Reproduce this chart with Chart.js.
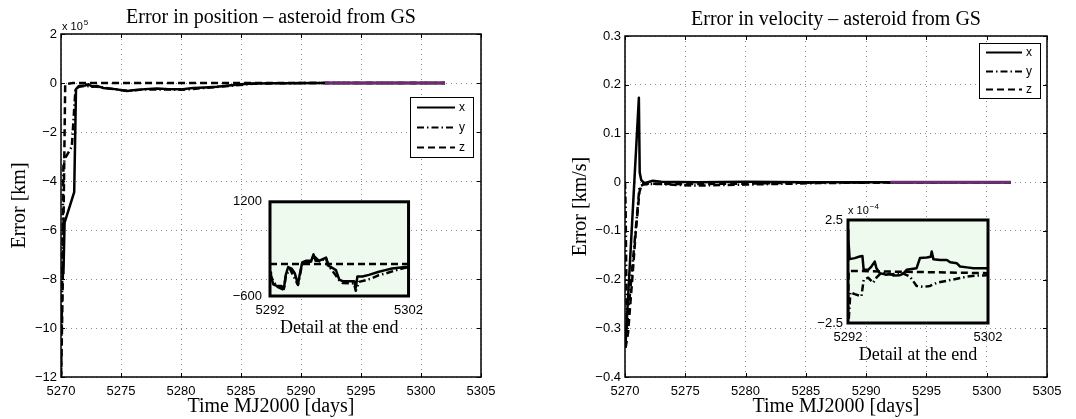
<!DOCTYPE html>
<html>
<head>
<meta charset="utf-8">
<script src="https://cdn.jsdelivr.net/npm/chart.js@4.4.1/dist/chart.umd.min.js"></script>
<style>
  body { margin: 0; background: #fff; }
  #wrap { position: relative; width: 1076px; height: 419px; overflow: hidden; background: #fff; }
  canvas { position: absolute; }
</style>
</head>
<body>
<div id="wrap">
  <canvas id="posChart" width="540" height="419" style="left:0;top:0"></canvas>
  <canvas id="velChart" width="536" height="419" style="left:540px;top:0"></canvas>
  <canvas id="posInset" width="220" height="160" style="left:210px;top:186px"></canvas>
  <canvas id="velInset" width="220" height="170" style="left:790px;top:195px"></canvas>
</div>
<script>
// ---- position error, main plot (units of 1e5 km) ----
const posXTime = [5270.2, 5270.3, 5271.1, 5271.25, 5271.5, 5272.0, 5272.3, 5272.6, 5273.0, 5273.5, 5274.5, 5275.5, 5276.0, 5277.0, 5278.0, 5279.0, 5280.0, 5281.0, 5282.0, 5283.0, 5284.0, 5285.0, 5286.0, 5288.0, 5292.0, 5302.0];
const posXVal = [-7.8, -5.7, -4.45, -0.25, -0.12, -0.1, -0.05, -0.15, -0.12, -0.2, -0.25, -0.33, -0.3, -0.25, -0.22, -0.25, -0.26, -0.2, -0.18, -0.15, -0.1, -0.05, -0.02, -0.01, 0, 0];
const posYTime = [5270.0, 5270.2, 5270.3, 5270.9, 5271.2, 5271.5, 5272.0, 5273.0, 5274.0, 5275.5, 5277.0, 5279.0, 5280.0, 5282.0, 5284.0, 5286.0, 5288.0, 5292.0, 5302.0];
const posYVal = [-12.5, -3.4, -3.1, -2.6, -0.3, -0.15, -0.12, -0.15, -0.22, -0.32, -0.26, -0.27, -0.28, -0.2, -0.12, -0.03, -0.01, 0, 0];
const posZTime = [5270.0, 5270.15, 5270.35, 5271.0, 5302.0];
const posZVal = [-12.5, -8.0, -0.05, 0.0, 0.0];

// ---- velocity error, main plot (km/s) ----
const velXTime = [5270.05, 5271.15, 5271.22, 5271.35, 5271.6, 5272.3, 5273.0, 5276.0, 5280.0, 5285.0, 5290.0, 5302.0];
const velXVal = [-0.33, 0.173, 0.02, 0.004, -0.002, 0.003, 0.001, 0.0, 0.001, 0.0, 0.0, 0.0];
const velYTime = [5270.0, 5270.05, 5270.15, 5270.3, 5271.2, 5271.5, 5272.0, 5273.0, 5274.5, 5276.0, 5278.0, 5280.0, 5282.0, 5284.0, 5286.0, 5290.0, 5302.0];
const velYVal = [0.0, -0.05, -0.3, -0.26, -0.01, -0.005, -0.004, -0.004, -0.006, -0.007, -0.006, -0.005, -0.004, -0.003, -0.002, -0.001, 0.0];
const velZTime = [5270.05, 5270.25, 5270.6, 5270.9, 5271.2, 5271.4, 5272.0, 5275.0, 5280.0, 5285.0, 5302.0];
const velZVal = [-0.34, -0.31, -0.2, -0.1, -0.02, -0.004, -0.003, -0.004, -0.003, -0.001, 0.0];

// highlighted detail span (purple)
const detailTime = [5292, 5302];
const posDetailVal = [0, 0];
const velDetailVal = [0, 0];

// ---- inset: position detail (km) ----
const insPosXTime = [5292.0, 5292.07, 5292.14, 5292.24, 5292.48, 5292.83, 5293.0, 5293.14, 5293.31, 5293.55, 5293.79, 5294.02, 5294.14, 5294.33, 5294.62, 5294.98, 5295.14, 5295.29, 5295.57, 5296.05, 5296.17, 5296.4, 5296.76, 5297.0, 5297.24, 5298.07, 5298.19, 5298.31, 5298.67, 5299.14, 5299.86, 5300.33, 5300.81, 5301.76, 5302.0];
const insPosXVal = [-150, -200, -290, -377, -407, -410, -467, -197, -46, -76, -167, -377, -200, 44, 74, 74, 195, 74, 74, 134, -16, -46, -106, -287, -317, -317, -437, -227, -227, -197, -137, -106, -76, -46, -46];
const insPosYTime = [5292.0, 5292.07, 5292.48, 5293.0, 5293.14, 5293.43, 5294.02, 5294.33, 5294.98, 5295.14, 5295.57, 5296.05, 5296.29, 5297.0, 5297.24, 5298.07, 5298.19, 5298.43, 5298.9, 5299.38, 5299.86, 5300.33, 5301.05, 5301.76, 5302.0];
const insPosYVal = [-180, -230, -420, -480, -220, -80, -390, 30, 60, 170, 60, 120, -40, -300, -350, -360, -500, -330, -300, -260, -200, -170, -110, -60, -50];
const insPosZTime = [5292.0, 5302.0];
const insPosZVal = [10, 10];

// ---- inset: velocity detail (units of 1e-4 km/s) ----
const insVelXTime = [5292.0, 5292.02, 5292.12, 5292.48, 5292.84, 5293.03, 5293.12, 5293.44, 5293.67, 5293.91, 5294.03, 5294.27, 5294.75, 5294.99, 5295.23, 5295.71, 5295.95, 5296.19, 5296.9, 5297.14, 5297.62, 5297.91, 5297.98, 5298.1, 5298.58, 5299.06, 5299.3, 5299.78, 5300.01, 5300.49, 5300.97, 5302.0];
const insVelXVal = [2.0, 1.6, 0.6, 0.65, 0.73, 0.75, 0.08, 0.08, 0.24, 0.48, 0.16, -0.08, -0.16, -0.1, -0.19, -0.18, -0.1, 0.08, 0.16, 0.65, 0.68, 0.72, 0.97, 0.6, 0.56, 0.56, 0.45, 0.4, 0.24, 0.2, 0.16, 0.16];
const insVelYTime = [5292.0, 5292.02, 5292.17, 5292.48, 5292.96, 5293.12, 5293.44, 5293.79, 5294.03, 5294.39, 5294.99, 5295.47, 5295.95, 5296.43, 5296.9, 5297.38, 5297.86, 5298.34, 5299.06, 5299.78, 5300.49, 5301.21, 5302.0];
const insVelYVal = [-3.0, -2.7, -1.0, -1.1, -1.2, -0.4, -0.3, -0.55, -0.3, -0.05, -0.15, -0.1, -0.1, -0.25, -0.7, -0.75, -0.7, -0.55, -0.45, -0.35, -0.25, -0.2, -0.18];
const insVelZTime = [5292.0, 5292.05, 5302.0];
const insVelZVal = [-2.0, 0.03, -0.08];

// tick ranges / labels
const timeRange = [5270, 5305, 5];
const posRange = [-12, 2, 2];
const velRange = [-0.4, 0.3, 0.1];
const insTimeTicks = [5292, 5302];
const insPosTicks = [-600, 1200];
const insVelTicks = [-2.5, 2.5];

const SERIF = "'Liberation Serif', 'DejaVu Serif', serif";
const SANS = "'Liberation Sans', Arial, sans-serif";
Chart.defaults.font.family = SANS;
Chart.defaults.color = "#000";

const pts = (t, v) => t.map((x, i) => ({ x: x, y: v[i] }));
const minus = (s) => String(s).replace("-", "\u2212");
const DASH = [7, 4];
const DASHDOT = [7, 3, 1.5, 3];

function series(tx, vx, ty, vy, tz, vz, w) {
  return [
    { label: "x", data: pts(tx, vx), borderColor: "#000", borderWidth: w, borderDash: [] },
    { label: "y", data: pts(ty, vy), borderColor: "#000", borderWidth: w, borderDash: DASHDOT },
    { label: "z", data: pts(tz, vz), borderColor: "#000", borderWidth: w, borderDash: DASH },
  ];
}

// axes box, inner tick marks, optional fill of the plot area
const framePlugin = {
  id: "frame",
  beforeDraw(chart, args, o) {
    if (!o.fill) return;
    const a = chart.chartArea, ctx = chart.ctx;
    ctx.save();
    ctx.fillStyle = o.fill;
    ctx.fillRect(a.left, a.top, a.width, a.height);
    ctx.restore();
  },
  afterDatasetsDraw(chart, args, o) {
    const a = chart.chartArea, ctx = chart.ctx;
    ctx.save();
    ctx.strokeStyle = "#000";
    if (o.tickLen) {
      ctx.lineWidth = 1;
      ctx.beginPath();
      chart.scales.x.ticks.forEach((t) => {
        const px = Math.round(chart.scales.x.getPixelForValue(t.value)) + 0.5;
        ctx.moveTo(px, a.bottom); ctx.lineTo(px, a.bottom - o.tickLen);
        ctx.moveTo(px, a.top); ctx.lineTo(px, a.top + o.tickLen);
      });
      chart.scales.y.ticks.forEach((t) => {
        const py = Math.round(chart.scales.y.getPixelForValue(t.value)) + 0.5;
        ctx.moveTo(a.left, py); ctx.lineTo(a.left + o.tickLen, py);
        ctx.moveTo(a.right, py); ctx.lineTo(a.right - o.tickLen, py);
      });
      ctx.stroke();
    }
    ctx.lineWidth = o.width;
    ctx.strokeRect(a.left, a.top, a.width, a.height);
    ctx.restore();
  },
};

// boxed legend inside the axes
const boxLegend = {
  id: "boxLegend",
  afterDraw(chart, args, o) {
    if (!o.box) return;
    const ctx = chart.ctx, a = chart.chartArea;
    const bx = a.right - o.box[0], by = a.top + o.box[1], bw = o.box[2], bh = o.box[3];
    const items = chart.data.datasets.filter((d) => ["x", "y", "z"].includes(d.label));
    ctx.save();
    ctx.fillStyle = "#fff";
    ctx.fillRect(bx, by, bw, bh);
    ctx.strokeStyle = "#000";
    ctx.lineWidth = 1;
    ctx.strokeRect(bx + 0.5, by + 0.5, bw, bh);
    items.forEach((d, i) => {
      const y = Math.round(by + (bh * (2 * i + 1)) / (2 * items.length)) + 0.5;
      ctx.beginPath();
      ctx.setLineDash(d.borderDash || []);
      ctx.lineWidth = 2;
      ctx.moveTo(bx + 7, y);
      ctx.lineTo(bx + bw - 18, y);
      ctx.stroke();
      ctx.setLineDash([]);
      ctx.fillStyle = "#000";
      ctx.font = "12px " + SANS;
      ctx.textBaseline = "middle";
      ctx.textAlign = "left";
      ctx.fillText(d.label, bx + bw - 14, y);
    });
    ctx.restore();
  },
};
Chart.register(framePlugin, boxLegend);

function sciLabel(ctx, x, y, exp, size) {
  ctx.font = size + "px " + SANS;
  ctx.textAlign = "left";
  ctx.textBaseline = "alphabetic";
  ctx.fillText("x 10", x, y);
  const w = ctx.measureText("x 10").width;
  ctx.font = Math.round(size * 0.72) + "px " + SANS;
  ctx.fillText(exp, x + w + 1, y - size * 0.5);
}

function mainChart(id, sets, range, fmt, yTitle, yTitlePad, yWidth, padRight, padTop, title, legendBox, exp) {
  return new Chart(document.getElementById(id), {
    type: "line",
    data: { datasets: sets },
    options: {
      responsive: false,
      animation: false,
      layout: { padding: { left: 0, right: padRight, top: padTop, bottom: 0 } },
      elements: { point: { radius: 0 }, line: { tension: 0, borderCapStyle: "butt", borderJoinStyle: "round" } },
      datasets: { line: { clip: 0 } },
      plugins: {
        legend: { display: false },
        tooltip: { enabled: false },
        frame: { width: 1.5, tickLen: 4 },
        boxLegend: { box: legendBox },
      },
      scales: {
        x: {
          type: "linear",
          min: timeRange[0], max: timeRange[1],
          ticks: { stepSize: timeRange[2], padding: 7, font: { size: 13 }, callback: (v) => String(v), maxRotation: 0 },
          grid: { color: "#8a8a8a", drawTicks: false, lineWidth: 1 },
          border: { display: false, dash: [1, 4] },
          title: { display: true, text: "Time MJ2000 [days]", font: { family: SERIF, size: 20 }, padding: { top: 0, bottom: 0 } },
          afterFit: (s) => { s.height = 42; },
        },
        y: {
          min: range[0], max: range[1],
          ticks: { stepSize: range[2], padding: 4, font: { size: 13 }, callback: fmt },
          grid: { color: "#8a8a8a", drawTicks: false, lineWidth: 1 },
          border: { display: false, dash: [1, 4] },
          title: { display: true, text: yTitle, font: { family: SERIF, size: 20 }, padding: { top: yTitlePad, bottom: 0 } },
          afterFit: (s) => { s.width = yWidth; },
        },
      },
    },
    plugins: [{
      id: "texts",
      afterDraw(chart) {
        const ctx = chart.ctx, a = chart.chartArea;
        ctx.save();
        ctx.fillStyle = "#000";
        ctx.font = "20px " + SERIF;
        ctx.textAlign = "center";
        ctx.textBaseline = "alphabetic";
        ctx.fillText(title, (a.left + a.right) / 2, a.top - 11);
        if (exp) sciLabel(ctx, a.left + 1, a.top - 4, exp, 11);
        ctx.restore();
      },
    }],
  });
}

function insetChart(id, sets, yTicks, fmt, yWidth, padRight, padTop, xHeight, yPad, exp) {
  const fixTicks = (vals) => (s) => { s.ticks = vals.map((v) => ({ value: v })); };
  return new Chart(document.getElementById(id), {
    type: "line",
    data: { datasets: sets },
    options: {
      responsive: false,
      animation: false,
      layout: { padding: { left: 0, right: padRight, top: padTop, bottom: 0 } },
      elements: { point: { radius: 0 }, line: { tension: 0, borderCapStyle: "butt", borderJoinStyle: "round" } },
      datasets: { line: { clip: 0 } },
      plugins: {
        legend: { display: false },
        tooltip: { enabled: false },
        frame: { width: 3, tickLen: 0, fill: "#effaef" },
        boxLegend: { box: null },
      },
      scales: {
        x: {
          type: "linear",
          min: insTimeTicks[0], max: insTimeTicks[1],
          afterBuildTicks: fixTicks(insTimeTicks),
          ticks: { padding: 7, font: { size: 13 }, autoSkip: false, maxRotation: 0, callback: (v) => String(v) },
          grid: { display: false, drawTicks: false },
          border: { display: false },
          afterFit: (s) => { s.height = xHeight; },
        },
        y: {
          min: yTicks[0], max: yTicks[1],
          afterBuildTicks: fixTicks(yTicks),
          ticks: { padding: yPad, font: { size: 13 }, autoSkip: false, callback: fmt },
          grid: { display: false, drawTicks: false },
          border: { display: false },
          afterFit: (s) => { s.width = yWidth; },
        },
      },
    },
    plugins: [{
      id: "texts",
      afterDraw(chart) {
        const ctx = chart.ctx, a = chart.chartArea;
        ctx.save();
        ctx.fillStyle = "#000";
        ctx.font = "18px " + SERIF;
        ctx.textAlign = "center";
        ctx.textBaseline = "alphabetic";
        ctx.fillText("Detail at the end", (a.left + a.right) / 2, a.bottom + 37);
        if (exp) sciLabel(ctx, a.left, a.top - 6, exp, 11);
        ctx.restore();
      },
    }],
  });
}

// purple highlight of the detail span, drawn on top of the black series
const purple = (t, v) => ({ label: "detail", data: pts(t, v), borderColor: "#6e2d72", borderWidth: 3, borderDash: [], order: -1 });

mainChart("posChart",
  series(posXTime, posXVal, posYTime, posYVal, posZTime, posZVal, 2.5).concat([purple(detailTime, posDetailVal)]),
  posRange, (v) => minus(v), "Error [km]", 8, 61, 59, 34,
  "Error in position \u2013 asteroid from GS", [71, 63, 63, 60], "5");

mainChart("velChart",
  series(velXTime, velXVal, velYTime, velYVal, velZTime, velZVal, 2.5).concat([purple(detailTime, velDetailVal)]),
  velRange, (v) => minus(Math.round(v * 10) / 10), "Error [km/s]", 29, 85, 29, 36,
  "Error in velocity \u2013 asteroid from GS", [68, 7, 61, 55], null);

insetChart("posInset",
  series(insPosXTime, insPosXVal, insPosYTime, insPosYVal, insPosZTime, insPosZVal, 2.5),
  insPosTicks, (v) => minus(v), 60, 20, 10, 50, 8, null);

insetChart("velInset",
  series(insVelXTime, insVelXVal, insVelYTime, insVelYVal, insVelZTime, insVelZVal, 2.5),
  insVelTicks, (v) => minus(v), 58, 22, 25, 42, 5, "\u22124");
</script>
</body>
</html>
